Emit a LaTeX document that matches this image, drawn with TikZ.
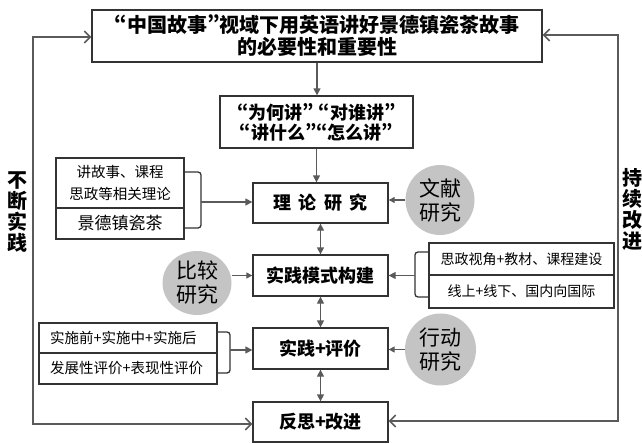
\documentclass[tikz,border=0pt]{standalone}
\usepackage{fontspec}
\setmainfont{Noto Sans CJK SC}
\newfontfamily\qf{Noto Sans CJK SC}[RawFeature=+pwid]
\newcommand\ql{{\qf “}}
\newcommand\qr{{\qf ”}}
\usetikzlibrary{arrows.meta,shapes.geometric,calc}
\definecolor{ln}{HTML}{5A5A5A}
\definecolor{bd}{HTML}{333333}
\definecolor{ov}{HTML}{C4C4C4}
\begin{document}
\begin{tikzpicture}[x=1pt,y=-1pt,
 box/.style={draw=bd, line width=1.3pt, inner sep=0pt, align=center, font=\bfseries\fontsize{18}{20}\selectfont},
 sbox/.style={draw=bd, line width=1.3pt, inner sep=0pt, align=center, font=\fontsize{14.5}{17}\selectfont},
 lbox/.style={draw=bd, line width=1.3pt, inner ysep=0pt, inner xsep=11pt, text width=156pt, align=left, font=\fontsize{14.5}{17}\selectfont},
 oval/.style={ellipse, fill=ov, inner sep=0pt, align=center, font=\fontsize{21}{24}\selectfont},
 arr/.style={draw=ln, line width=1.3pt, -{Triangle[length=7pt,width=7pt]}},
 oarr/.style={draw=ln, line width=1.1pt, -{Triangle[length=6pt,width=6pt]}},
 darr/.style={draw=ln, line width=1.3pt, {Triangle[length=7pt,width=7pt]}-{Triangle[length=7pt,width=7pt]}},
 fb/.style={draw=ln, line width=1.5pt, {Straight Barb[length=6pt,width=12pt]}-{Straight Barb[length=6pt,width=12pt]}},
 side/.style={font=\bfseries\fontsize{20}{21}\selectfont, align=center, inner sep=0pt},
 brk/.style={draw=bd, line width=1.3pt, rounded corners=3pt}]
\useasboundingbox (0,0) rectangle (642,444);

% main column
\node[box, minimum width=450pt, minimum height=52pt, font=\bfseries\fontsize{20}{22}\selectfont] (top) at (317,36) {\ql 中国故事\qr 视域下用英语讲好景德镇瓷茶故事\\的必要性和重要性};
\node[box, minimum width=193pt, minimum height=52pt] (q) at (316.5,122) {\ql 为何讲\qr\hspace{0.25em}\ql 对谁讲\qr\\\ql 讲什么\qr\ql 怎么讲\qr};
\node[box, minimum width=135pt, minimum height=40pt] (th) at (320.5,203) {理\hspace{0.42em}论\hspace{0.42em}研\hspace{0.42em}究};
\node[box, minimum width=135pt, minimum height=41pt] (pm) at (320.5,275.5) {实践模式构建};
\node[box, minimum width=135pt, minimum height=41pt] (pe) at (320.5,348.5) {实践+评价};
\node[box, minimum width=135pt, minimum height=40pt] (rf) at (320.5,422) {反思+改进};

% side groups
\node[sbox, minimum width=128pt, minimum height=50pt, font=\fontsize{14.5}{22}\selectfont] (l1) at (120,183) {讲故事、课程\\思政等相关理论};
\node[sbox, minimum width=128pt, minimum height=31pt, font=\fontsize{17}{20}\selectfont] (l2) at (120,223.5) {景德镇瓷茶};
\node[sbox, minimum width=185pt, minimum height=32pt, font=\fontsize{14}{17}\selectfont] (r1) at (521.5,259) {思政视角+教材、课程建设};
\node[sbox, minimum width=185pt, minimum height=33pt, font=\fontsize{14}{17}\selectfont] (r2) at (521.5,291.5) {线上+线下、国内向国际};
\node[lbox, minimum height=30pt] (b1) at (128,338) {实施前+实施中+实施后};
\node[lbox, minimum height=31pt] (b2) at (128,368.5) {发展性评价+表现性评价};

% ovals
\node[oval, minimum width=69pt, minimum height=70pt] (wx) at (440,200) {文献\\研究};
\node[oval, minimum width=69pt, minimum height=64pt] (bj) at (197,283) {比较\\研究};
\node[oval, minimum width=71pt, minimum height=72pt] (xd) at (440.5,349.5) {行动\\研究};

% side labels
\node[side] (s1) at (17,212) {不\\断\\实\\践};
\node[side] (s2) at (632,209) {持\\续\\改\\进};

% vertical arrows
\draw[arr] (top.south) -- (top.south |- q.north);
\draw[arr] (q.south) -- (q.south |- th.north);
\draw[darr] (th.south) -- (pm.north);
\draw[darr] (pm.south) -- (pe.north);
\draw[darr] (pe.south) -- (rf.north);

% brackets
\coordinate (lbk) at (201,202);
\draw[brk] (l1.east |- 0,172) -- (201,172) -- (201,228) -- (l2.east |- 0,228);
\draw[arr] (lbk) -- (lbk -| th.west);
\coordinate (rbk) at (415,275.5);
\draw[brk] (r1.west |- 0,252) -- (415,252) -- (415,297) -- (r2.west |- 0,297);
\draw[arr] (rbk) -- (rbk -| pm.east);
\coordinate (bbk) at (230,350);
\draw[brk] (b1.east |- 0,332) -- (230,332) -- (230,373) -- (b2.east |- 0,373);
\draw[arr] (bbk) -- (bbk -| pe.west);

% oval arrows
\draw[oarr] (wx.west) -- (wx.west -| th.east);
\draw[oarr] (bj.east |- pm.west) -- (pm.west);
\draw[oarr] (xd.west) -- (xd.west -| pe.east);

% feedback loops
\coordinate (fl1) at (33,37);
\coordinate (fl2) at (33,424);
\coordinate (fr1) at (618,35);
\coordinate (fr2) at (618,421);
\draw[fb] (top.west |- fl1) -- (fl1) -- (fl2) -- (rf.west |- fl2);
\draw[fb] (top.east |- fr1) -- (fr1) -- (fr2) -- (rf.east |- fr2);
\end{tikzpicture}
\end{document}
